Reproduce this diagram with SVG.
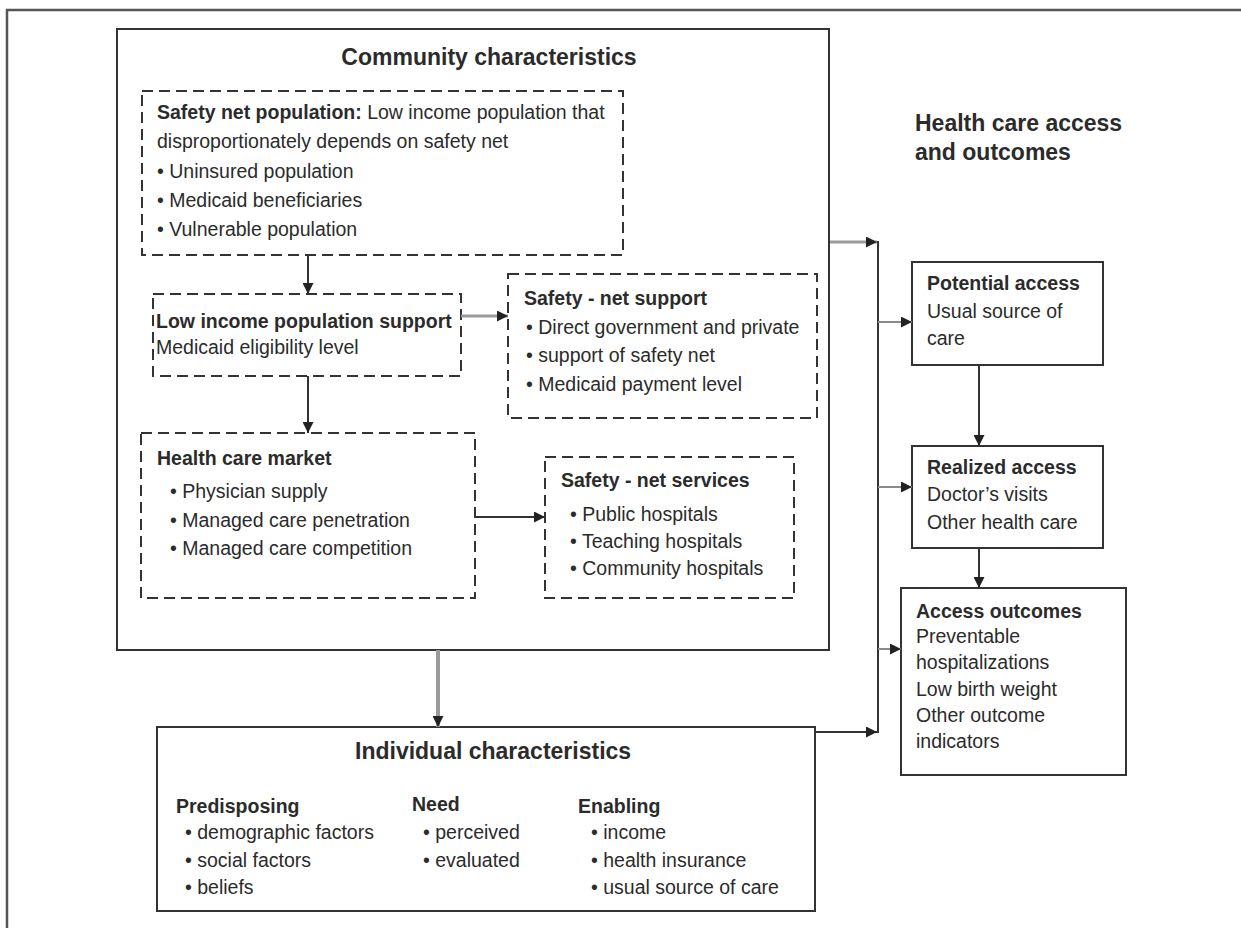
<svg xmlns="http://www.w3.org/2000/svg" width="1241" height="928" viewBox="0 0 1241 928">
  <style>
    text { font-family: "Liberation Sans", Arial, Helvetica, sans-serif; fill: #2b2b2b; font-size: 19.5px; }
    .b { font-weight: bold; }
    .title { font-weight: bold; font-size: 23px; }
    .solid { fill: #fff; stroke: #333; stroke-width: 2; }
    .dash { fill: #fff; stroke: #333; stroke-width: 2; stroke-dasharray: 11 6; }
    .frame { fill: none; stroke: #555; stroke-width: 2.5; }
    .dark { fill: none; stroke: #333; stroke-width: 2; }
    .grey { fill: none; stroke: #9a9a9a; stroke-width: 3; }
    .greythin { fill: none; stroke: #8a8a8a; stroke-width: 2; }
  </style>
  <defs>
    <marker id="head" markerUnits="userSpaceOnUse" viewBox="0 0 10 10" refX="10" refY="5" markerWidth="11" markerHeight="11" orient="auto">
      <path d="M0,0 L10,5 L0,10 z" fill="#222"/>
    </marker>
  </defs>

  <rect width="1241" height="928" fill="#fff"/>

  <!-- page frame -->
  <path class="frame" d="M7,928 L7,10 L1241,10"/>

  <!-- community characteristics container -->
  <g id="community">
    <rect class="solid" x="117" y="29" width="712" height="621"/>
    <text class="title" x="489" y="65" text-anchor="middle">Community characteristics</text>
  </g>

  <g id="safety-net-population">
    <rect class="dash" x="142" y="91" width="481" height="164"/>
    <text x="157" y="119"><tspan class="b">Safety net population:</tspan> Low income population that</text>
    <text x="157" y="148">disproportionately depends on safety net</text>
    <text x="157" y="178">• Uninsured population</text>
    <text x="157" y="207">• Medicaid beneficiaries</text>
    <text x="157" y="236">• Vulnerable population</text>
  </g>

  <g id="low-income-support">
    <rect class="dash" x="153" y="294" width="308" height="82"/>
    <text class="b" x="156" y="328">Low income population support</text>
    <text x="156" y="354">Medicaid eligibility level</text>
  </g>

  <g id="safety-net-support">
    <rect class="dash" x="508" y="274" width="309" height="144"/>
    <text class="b" x="524" y="305">Safety - net support</text>
    <text x="526" y="334">• Direct government and private</text>
    <text x="526" y="362">• support of safety net</text>
    <text x="526" y="391">• Medicaid payment level</text>
  </g>

  <g id="health-care-market">
    <rect class="dash" x="141" y="433" width="334" height="165"/>
    <text class="b" x="157" y="465">Health care market</text>
    <text x="170" y="498">• Physician supply</text>
    <text x="170" y="527">• Managed care penetration</text>
    <text x="170" y="555">• Managed care competition</text>
  </g>

  <g id="safety-net-services">
    <rect class="dash" x="545" y="457" width="249" height="141"/>
    <text class="b" x="561" y="487">Safety - net services</text>
    <text x="570" y="521">• Public hospitals</text>
    <text x="570" y="548">• Teaching hospitals</text>
    <text x="570" y="575">• Community hospitals</text>
  </g>

  <g id="access-heading">
    <text class="title" x="915" y="131">Health care access</text>
    <text class="title" x="915" y="160">and outcomes</text>
  </g>

  <g id="potential-access">
    <rect class="solid" x="912" y="262" width="191" height="103"/>
    <text class="b" x="927" y="290">Potential access</text>
    <text x="927" y="318">Usual source of</text>
    <text x="927" y="345">care</text>
  </g>

  <g id="realized-access">
    <rect class="solid" x="912" y="446" width="191" height="102"/>
    <text class="b" x="927" y="474">Realized access</text>
    <text x="927" y="501">Doctor’s visits</text>
    <text x="927" y="529">Other health care</text>
  </g>

  <g id="access-outcomes">
    <rect class="solid" x="901" y="588" width="225" height="187"/>
    <text class="b" x="916" y="618">Access outcomes</text>
    <text x="916" y="643">Preventable</text>
    <text x="916" y="669">hospitalizations</text>
    <text x="916" y="696">Low birth weight</text>
    <text x="916" y="722">Other outcome</text>
    <text x="916" y="748">indicators</text>
  </g>

  <g id="individual">
    <rect class="solid" x="157" y="727" width="658" height="184"/>
    <text class="title" x="355" y="759">Individual characteristics</text>
    <text class="b" x="176" y="813">Predisposing</text>
    <text x="185" y="839">• demographic factors</text>
    <text x="185" y="867">• social factors</text>
    <text x="185" y="894">• beliefs</text>
    <text class="b" x="412" y="811">Need</text>
    <text x="423" y="839">• perceived</text>
    <text x="423" y="867">• evaluated</text>
    <text class="b" x="578" y="813">Enabling</text>
    <text x="591" y="839">• income</text>
    <text x="591" y="867">• health insurance</text>
    <text x="591" y="894">• usual source of care</text>
  </g>

  <g id="connectors">
    <path class="dark" d="M308,255 L308,294" marker-end="url(#head)"/>
    <path class="dark" d="M308,376 L308,433" marker-end="url(#head)"/>
    <path class="grey" d="M461,316 L508,316" marker-end="url(#head)"/>
    <path class="dark" d="M475,517 L545,517" marker-end="url(#head)"/>
    <path class="grey" d="M438,650 L438,727" marker-end="url(#head)" style="stroke-width:4"/>
    <path class="grey" d="M830,242 L877,242" marker-end="url(#head)"/>
    <path class="dark" d="M878,241 L878,733"/>
    <path class="greythin" d="M878,322 L912,322" marker-end="url(#head)"/>
    <path class="greythin" d="M878,487 L912,487" marker-end="url(#head)"/>
    <path class="greythin" d="M878,649 L901,649" marker-end="url(#head)"/>
    <path class="dark" d="M815,732 L877,732" marker-end="url(#head)"/>
    <path class="dark" d="M979,365 L979,446" marker-end="url(#head)"/>
    <path class="dark" d="M979,548 L979,588" marker-end="url(#head)"/>
  </g>
</svg>
